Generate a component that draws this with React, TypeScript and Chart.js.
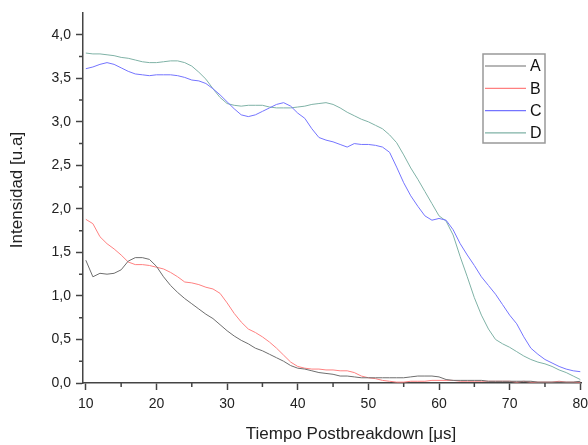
import React, { useEffect, useRef } from "react";
import { Chart, registerables } from "chart.js";

Chart.register(...registerables);

// ---------- data ----------
const time = [
  10, 11, 12, 13, 14, 15, 16, 17, 18, 19, 20, 21, 22, 23, 24, 25, 26, 27, 28, 29,
  30, 31, 32, 33, 34, 35, 36, 37, 38, 39, 40, 41, 42, 43, 44, 45, 46, 47, 48, 49,
  50, 51, 52, 53, 54, 55, 56, 57, 58, 59, 60, 61, 62, 63, 64, 65, 66, 67, 68, 69,
  70, 71, 72, 73, 74, 75, 76, 77, 78, 79, 80,
];

const seriesA = [
  1.41, 1.22, 1.26, 1.25, 1.26, 1.3, 1.4, 1.44, 1.44, 1.42, 1.34, 1.22, 1.12, 1.04, 0.97, 0.91, 0.85, 0.79, 0.74, 0.67,
  0.6, 0.54, 0.49, 0.45, 0.4, 0.37, 0.33, 0.29, 0.25, 0.2, 0.17, 0.16, 0.14, 0.12, 0.11, 0.1, 0.08, 0.08, 0.07, 0.06,
  0.06, 0.06, 0.06, 0.06, 0.06, 0.06, 0.07, 0.08, 0.08, 0.08, 0.07, 0.04, 0.03, 0.03, 0.03, 0.03, 0.03, 0.02, 0.02, 0.02,
  0.02, 0.02, 0.02, 0.02, 0.01, 0.01, 0.01, 0.01, 0.01, 0.01, 0.02,
];

const seriesB = [
  1.88, 1.83, 1.68, 1.6, 1.54, 1.47, 1.39, 1.36, 1.36, 1.35, 1.33, 1.31, 1.27, 1.22, 1.16, 1.15, 1.13, 1.1, 1.08, 1.03,
  0.92, 0.8, 0.7, 0.62, 0.58, 0.53, 0.47, 0.4, 0.32, 0.24, 0.19, 0.17, 0.16, 0.16, 0.15, 0.15, 0.14, 0.14, 0.12, 0.08,
  0.06, 0.05, 0.03, 0.02, 0.01, 0.01, 0.02, 0.02, 0.02, 0.03, 0.03, 0.03, 0.03, 0.02, 0.02, 0.02, 0.02, 0.02, 0.02, 0.02,
  0.02, 0.01, 0.02, 0.01, 0.01, 0.01, 0.01, 0.02, 0.01, 0.01, 0.01,
];

const seriesC = [
  3.61, 3.63, 3.66, 3.68, 3.66, 3.62, 3.58, 3.55, 3.54, 3.53, 3.54, 3.54, 3.54, 3.53, 3.51, 3.48, 3.47, 3.44, 3.38, 3.31,
  3.23, 3.15, 3.08, 3.06, 3.08, 3.12, 3.16, 3.2, 3.22, 3.18, 3.1, 3.04, 2.92, 2.82, 2.79, 2.77, 2.74, 2.71, 2.75, 2.74,
  2.74, 2.73, 2.71, 2.65, 2.48, 2.3, 2.15, 2.03, 1.92, 1.87, 1.89, 1.87, 1.76, 1.6, 1.47, 1.35, 1.22, 1.12, 1.02, 0.9,
  0.78, 0.68, 0.53, 0.4, 0.33, 0.27, 0.23, 0.19, 0.16, 0.14, 0.13,
];

const seriesD = [
  3.79, 3.78, 3.78, 3.77, 3.76, 3.74, 3.73, 3.71, 3.69, 3.68, 3.68, 3.69, 3.7, 3.7, 3.68, 3.64, 3.57, 3.49, 3.38, 3.28,
  3.21, 3.19, 3.18, 3.19, 3.19, 3.19, 3.17, 3.16, 3.16, 3.16, 3.17, 3.18, 3.2, 3.21, 3.22, 3.2, 3.16, 3.11, 3.07, 3.03,
  3.0, 2.96, 2.92, 2.85, 2.76, 2.62, 2.47, 2.34, 2.2, 2.06, 1.92, 1.86, 1.7, 1.45, 1.22, 0.98, 0.78, 0.62, 0.5, 0.45,
  0.41, 0.36, 0.31, 0.27, 0.24, 0.22, 0.19, 0.15, 0.12, 0.08, 0.04,
];

const seriesNames = ["A", "B", "C", "D"];
const seriesColors = ["#6e6e6e", "#ff8080", "#7474ff", "#7fb2a6"];

const xTickValues = [10, 15, 20, 25, 30, 35, 40, 45, 50, 55, 60, 65, 70, 75, 80];
const xMajorTicks = [10, 20, 30, 40, 50, 60, 70, 80];
const yTickValues = [0, 0.25, 0.5, 0.75, 1, 1.25, 1.5, 1.75, 2, 2.25, 2.5, 2.75, 3, 3.25, 3.5, 3.75, 4];
const yMajorTicks = [0, 0.5, 1, 1.5, 2, 2.5, 3, 3.5, 4];

const xTitle = "Tiempo Postbreakdown [μs]";
const yTitle = "Intensidad [u.a]";

// ---------- style ----------
const FONT = "'Liberation Sans', Arial, sans-serif";
const AXIS_COLOR = "#444444";
const TEXT_COLOR = "#222222";

const minorTicksPlugin = {
  id: "minorTicks",
  afterDraw(chart: any) {
    const { ctx, chartArea, scales } = chart;
    ctx.save();
    ctx.strokeStyle = AXIS_COLOR;
    ctx.lineWidth = 1.5;
    ctx.beginPath();
    xTickValues
      .filter((v) => !xMajorTicks.includes(v))
      .forEach((v) => {
        const x = scales.x.getPixelForValue(v);
        ctx.moveTo(x, chartArea.bottom);
        ctx.lineTo(x, chartArea.bottom + 4);
      });
    yTickValues
      .filter((v) => !yMajorTicks.includes(v))
      .forEach((v) => {
        const y = scales.y.getPixelForValue(v);
        ctx.moveTo(chartArea.left - 4, y);
        ctx.lineTo(chartArea.left, y);
      });
    ctx.stroke();
    ctx.restore();
  },
};

const titlesPlugin = {
  id: "axisTitles",
  afterDraw(chart: any) {
    const { ctx } = chart;
    ctx.save();
    ctx.fillStyle = TEXT_COLOR;
    ctx.font = `17px ${FONT}`;
    ctx.textAlign = "center";
    ctx.textBaseline = "alphabetic";
    ctx.fillText(xTitle, 351, 439);
    ctx.translate(22, 190);
    ctx.rotate(-Math.PI / 2);
    ctx.fillText(yTitle, 0, 0);
    ctx.restore();
  },
};

const legendPlugin = {
  id: "boxLegend",
  afterDraw(chart: any) {
    const { ctx } = chart;
    const left = 483;
    const top = 54;
    const w = 62;
    const h = 89;
    ctx.save();
    ctx.fillStyle = "#ffffff";
    ctx.fillRect(left, top, w, h);
    ctx.strokeStyle = "#999999";
    ctx.lineWidth = 1.5;
    ctx.strokeRect(left, top, w, h);
    ctx.font = `16px ${FONT}`;
    ctx.textBaseline = "middle";
    ctx.textAlign = "left";
    seriesNames.forEach((name, i) => {
      const y = top + 12 + i * 22.3;
      ctx.strokeStyle = seriesColors[i];
      ctx.lineWidth = 1.2;
      ctx.beginPath();
      ctx.moveTo(left + 2, y);
      ctx.lineTo(left + 43, y);
      ctx.stroke();
      ctx.fillStyle = "#111111";
      ctx.fillText(name, left + 47, y + 1);
    });
    ctx.restore();
  },
};

export default function App() {
  const canvasRef = useRef<HTMLCanvasElement | null>(null);

  useEffect(() => {
    const canvas = canvasRef.current;
    if (!canvas) return;
    const allSeries = [seriesA, seriesB, seriesC, seriesD];
    const chart = new Chart(canvas, {
      type: "line",
      data: {
        datasets: allSeries.map((s, i) => ({
          label: seriesNames[i],
          data: time.map((t, k) => ({ x: t, y: s[k] })),
          borderColor: seriesColors[i],
          backgroundColor: seriesColors[i],
          borderWidth: 1,
          pointRadius: 0,
          tension: 0,
          fill: false,
        })),
      },
      options: {
        responsive: false,
        animation: false,
        devicePixelRatio: 1,
        layout: { autoPadding: false, padding: { top: 13, right: 7, left: 0, bottom: 0 } },
        plugins: {
          legend: { display: false },
          tooltip: { enabled: false },
          title: { display: false },
        },
        scales: {
          x: {
            type: "linear",
            min: 9.6,
            max: 80.1,
            afterBuildTicks: (scale: any) => {
              scale.ticks = xTickValues.map((v) => ({ value: v }));
            },
            afterFit: (scale: any) => {
              scale.height = 62;
              scale.paddingLeft = 0;
              scale.paddingRight = 0;
            },
            border: { display: true, color: AXIS_COLOR, width: 1.5 },
            grid: {
              drawOnChartArea: false,
              drawTicks: true,
              tickLength: 7,
              tickWidth: 1.5,
              tickColor: (c: any) =>
                c.tick && xMajorTicks.includes(c.tick.value) ? AXIS_COLOR : "rgba(0,0,0,0)",
            },
            ticks: {
              autoSkip: false,
              maxRotation: 0,
              padding: 6,
              color: TEXT_COLOR,
              font: { family: FONT, size: 14 },
              callback: (v: any) => (xMajorTicks.includes(Number(v)) ? String(v) : ""),
            },
          },
          y: {
            type: "linear",
            min: 0,
            max: 4.25,
            afterBuildTicks: (scale: any) => {
              scale.ticks = yTickValues.map((v) => ({ value: v }));
            },
            afterFit: (scale: any) => {
              scale.width = 83;
              scale.paddingTop = 0;
              scale.paddingBottom = 0;
            },
            border: { display: true, color: AXIS_COLOR, width: 1.5 },
            grid: {
              drawOnChartArea: false,
              drawTicks: true,
              tickLength: 7,
              tickWidth: 1.5,
              tickColor: (c: any) =>
                c.tick && yMajorTicks.includes(c.tick.value) ? AXIS_COLOR : "rgba(0,0,0,0)",
            },
            ticks: {
              autoSkip: false,
              padding: 5,
              color: TEXT_COLOR,
              font: { family: FONT, size: 14 },
              callback: (v: any) =>
                yMajorTicks.includes(Number(v)) ? Number(v).toFixed(1).replace(".", ",") : "",
            },
          },
        },
      },
      plugins: [minorTicksPlugin, titlesPlugin, legendPlugin],
    } as any);
    return () => chart.destroy();
  }, []);

  return (
    <div style={{ position: "fixed", left: 0, top: 0, width: 588, height: 445, background: "#ffffff" }}>
      <canvas ref={canvasRef} width={588} height={445} style={{ width: 588, height: 445, display: "block" }} />
    </div>
  );
}
